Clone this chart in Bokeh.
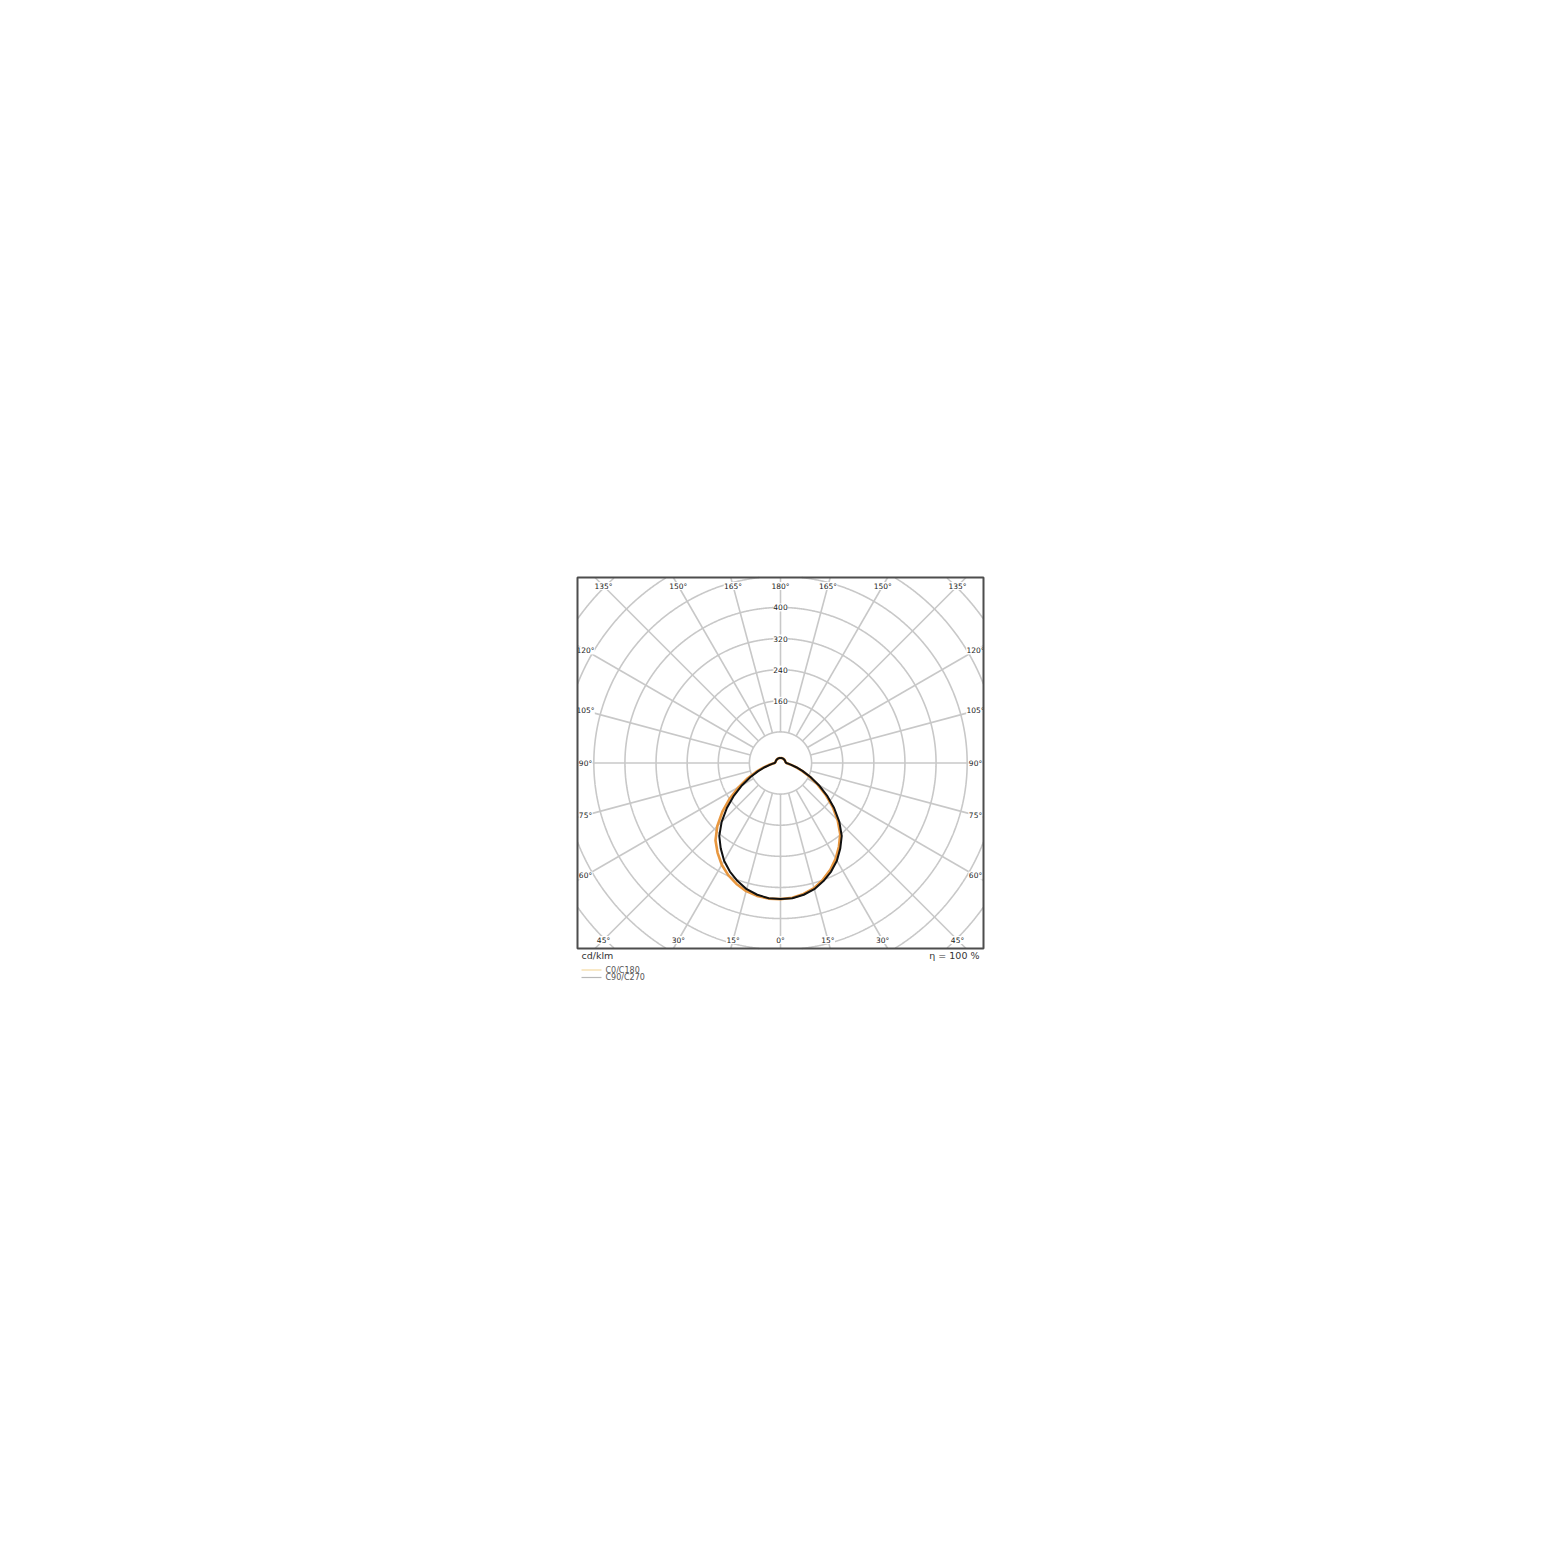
import numpy as np
from bokeh.plotting import figure
from bokeh.embed import file_html
from bokeh.resources import INLINE
from bokeh.core.properties import value

# ---------------- data (cd/klm) ----------------
gamma = [0, 5, 10, 15, 20, 25, 30, 35, 40, 45, 50, 55, 60, 65, 70, 75, 80, 85, 90,
         95, 100, 105, 110, 115, 120, 125, 130, 135, 140, 145, 150, 155, 160, 165, 170, 175, 180]
c0 = [350, 348, 342, 333, 319, 303, 284, 262, 239, 208, 175, 141, 110, 82, 59, 41, 28, 20, 15,
      14, 13, 13, 13, 13, 13, 13, 13, 13, 13, 13, 13, 13, 13, 13, 13, 13, 13]
c180 = [350, 350, 347, 341, 331, 318, 302, 282, 260, 230, 195, 159, 124, 93, 67, 46, 31, 21, 15,
        14, 13, 13, 13, 13, 13, 13, 13, 13, 13, 13, 13, 13, 13, 13, 13, 13, 13]
c90 = [350, 349, 344, 336, 323, 308, 290, 268, 245, 214, 180, 146, 114, 85, 61, 42, 28, 20, 15,
       14, 13, 13, 13, 13, 13, 13, 13, 13, 13, 13, 13, 13, 13, 13, 13, 13, 13]
c270 = [350, 349, 344, 336, 323, 308, 290, 268, 245, 214, 180, 146, 114, 85, 61, 42, 28, 20, 15,
        14, 13, 13, 13, 13, 13, 13, 13, 13, 13, 13, 13, 13, 13, 13, 13, 13, 13]

ring_values = [80, 160, 240, 320, 400, 480, 560, 640, 720]
ring_labels = ["160", "240", "320", "400"]
ray_angles = list(range(0, 360, 15))
angle_ticks = [0, 15, 30, 45, 60, 75, 90, 105, 120, 135, 150, 165, 180]
series_names = ["C0/C180", "C90/C270"]
unit_text = "cd/klm"
eta_text = "η = 100 %"

# ---------------- geometry ----------------
W, H = 1552, 1553
CX, CY = 780.0, 762.5          # pole position on the canvas (px)
U = 1044.0 / 406.0             # data units per pixel
XB, YB = 203 * U, 185.5 * U    # half size of the diagram box (data units)

def px2x(px):
    return (px - CX) * U

def py2y(py):
    return (CY - py) * U

p = figure(width=W, height=H, x_range=(px2x(0), px2x(W)), y_range=(py2y(H), py2y(0)),
           output_backend="svg", toolbar_location=None,
           x_axis_location=None, y_axis_location=None,
           min_border_left=0, min_border_right=0, min_border_top=0, min_border_bottom=0)
p.grid.visible = False
p.outline_line_color = None
p.background_fill_color = "white"
p.border_fill_color = "white"

GRID = "#c8c8c8"
FONT = "DejaVu Sans"

# rings, clipped to the box
t = np.linspace(0, 2 * np.pi, 1441)
rx, ry = [], []
for rv in ring_values:
    x = rv * np.cos(t)
    y = rv * np.sin(t)
    inside = (np.abs(x) <= XB) & (np.abs(y) <= YB)
    x = np.where(inside, x, np.nan)
    y = np.where(inside, y, np.nan)
    rx.append(x)
    ry.append(y)
rx = np.concatenate([np.append(a, np.nan) for a in rx])
ry = np.concatenate([np.append(a, np.nan) for a in ry])
p.line(rx, ry, line_color=GRID, line_width=1.6)

# rays, clipped to the box
xs, ys = [], []
for a in ray_angles:
    ta = np.radians(a)
    dx, dy = np.sin(ta), -np.cos(ta)
    tmax = min(XB / abs(dx) if abs(dx) > 1e-9 else 1e9, YB / abs(dy) if abs(dy) > 1e-9 else 1e9)
    r0 = ring_values[0]
    xs.append([r0 * dx, tmax * dx])
    ys.append([r0 * dy, tmax * dy])
p.multi_line(xs=xs, ys=ys, line_color=GRID, line_width=1.6)

# curves
g = np.radians(np.array(gamma, dtype=float))

def half(vals, side):
    v = np.array(vals, dtype=float)
    return side * v * np.sin(g), -v * np.cos(g)

def full(right, left):
    xr, yr = half(right, 1)
    xl, yl = half(left, -1)
    return np.concatenate([xl[::-1], xr]), np.concatenate([yl[::-1], yr])

ox, oy = full(c0, c180)
bx, by = full(c90, c270)
p.line(ox, oy, line_color="#e8973f", line_width=2.6)
p.line(bx, by, line_color="#111111", line_width=2.0)

# angle labels
YL = 177 * U
XL = 195 * U
lx, ly, lt = [], [], []
for a in angle_ticks:
    ta = np.radians(a)
    s, c = abs(np.sin(ta)), abs(np.cos(ta))
    r = min(YL / c if c > 1e-9 else 1e9, XL / s if s > 1e-9 else 1e9)
    for side in ([1] if a in (0, 180) else [-1, 1]):
        lx.append(side * r * np.sin(ta))
        ly.append(-r * np.cos(ta))
        lt.append("%d°" % a)
for txt in ring_labels:
    lx.append(0.0)
    ly.append(float(txt))
    lt.append(txt)

widths = [len(s_) * 4.4 + 1 for s_ in lt]
p.rect(x=lx, y=ly, width=widths, height=[8] * len(lt), width_units="screen",
       height_units="screen", fill_color="white", line_color=None)
p.text(x=lx, y=ly, text=lt, text_align="center", text_baseline="middle",
       text_font=value(FONT), text_font_size="7.5px", text_color="#222222")

# white masks outside the box at both sides (clip labels at the box edge)
mw = 40 * U
p.rect(x=[-XB - mw / 2, XB + mw / 2], y=[0, 0], width=[mw, mw], height=[2 * YB, 2 * YB],
       fill_color="white", line_color=None)

# box outline
p.rect(x=[0], y=[0], width=[2 * XB], height=[2 * YB], fill_color=None,
       line_color="#4d4d4d", line_width=2)

# texts below the box
p.text(x=[px2x(581)], y=[py2y(954.5)], text=[unit_text], text_align="left",
       text_baseline="middle", text_font=value(FONT), text_font_size="9.5px",
       text_color="#333333")
p.text(x=[px2x(979)], y=[py2y(954.5)], text=[eta_text], text_align="right",
       text_baseline="middle", text_font=value(FONT), text_font_size="9.5px",
       text_color="#333333")

leg_colors = ["#f3d9a0", "#b8b8b8"]
leg_py = [969.5, 977]
for name, col, yy in zip(series_names, leg_colors, leg_py):
    p.line([px2x(581), px2x(601)], [py2y(yy), py2y(yy)], line_color=col, line_width=1.2)
    p.text(x=[px2x(605)], y=[py2y(yy)], text=[name], text_align="left",
           text_baseline="middle", text_font=value(FONT), text_font_size="8px",
           text_color="#555555")

open("out.html", "w").write(file_html(p, INLINE))
